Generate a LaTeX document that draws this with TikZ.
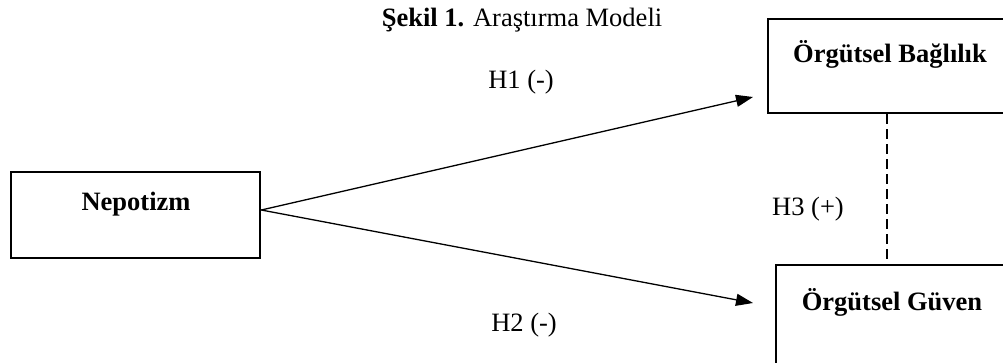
\documentclass[tikz,border=0pt]{standalone}
\usepackage{fontspec}
\setmainfont{Liberation Serif}
\usetikzlibrary{arrows.meta}
\begin{document}
\begin{tikzpicture}[x=1pt,y=-1pt,
  box/.style={draw=black,line width=2.6pt,inner sep=0pt},
  lbl/.style={font=\fontsize{26.5}{30}\selectfont,anchor=base,inner sep=0pt},
  blbl/.style={lbl,font=\fontsize{26.5}{30}\selectfont\bfseries},
  arr/.style={line width=1.3pt,-{Triangle[length=17pt,width=12pt]}},
  dsh/.style={line width=1.8pt,dash pattern=on 10pt off 5pt}]
\clip (0,0) rectangle (1003,362);
\fill[white] (0,0) rectangle (1003,362);
% boxes
\node[box,minimum width=249pt,minimum height=86pt] (nepo) at (135.5,215) {};
\node[box,minimum width=244pt,minimum height=94pt] (bag) at (890,66) {};
\node[box,minimum width=236pt,minimum height=107pt] (guv) at (894,318.5) {};
% texts
\node[lbl] (title) at (522,26) {\textbf{Şekil 1.} Araştırma Modeli};
\node[blbl] (tnepo) at (136,210) {Nepotizm};
\node[blbl] (tbag) at (890,62) {Örgütsel Bağlılık};
\node[blbl] (tguv) at (892,310) {Örgütsel Güven};
\node[lbl] (h1) at (521,88) {H1 (-)};
\node[lbl] (h2) at (524,331) {H2 (-)};
\node[lbl] (h3) at (808,215) {H3 (+)};
% connectors
\coordinate (s) at (nepo.east |- 0,210);
\coordinate (t1) at (753,97);
\coordinate (t2) at (753,303);
\coordinate (d) at (887,0);
\draw[arr] (s) -- (t1);
\draw[arr] (s) -- (t2);
\draw[dsh] (bag.south -| d) -- (guv.north -| d);
\end{tikzpicture}
\end{document}
